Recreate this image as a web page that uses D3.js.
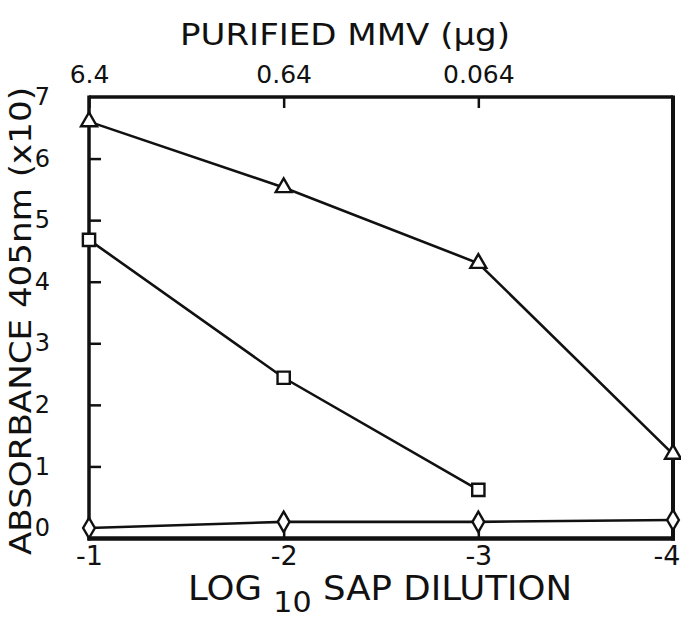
<!DOCTYPE html>
<html>
<head>
<meta charset="utf-8">
<script src="https://cdn.jsdelivr.net/npm/d3@7"></script>
<style>
  html, body { margin: 0; padding: 0; background: #fff; }
  svg { display: block; }
  text { font-family: "DejaVu Sans", "Liberation Sans", sans-serif; fill: #111; }
</style>
</head>
<body>
<svg id="chart" width="681" height="621"></svg>
<script>
// ---- data ----
const dilutions = [-1, -2, -3, -4];
const dilutionLabels = ["-1", "-2", "-3", "-4"];
const mmvTicks = [-1, -2, -3];
const mmvLabels = ["6.4", "0.64", "0.064"];
const yTicks = [0, 1, 2, 3, 4, 5, 6, 7];
const triangleValues = [6.6, 5.53, 4.3, 1.2];
const squareValues = [4.68, 2.44, 0.62];
const diamondValues = [0.0, 0.1, 0.1, 0.13];

const svg = d3.select("#chart");
const x = d3.scaleLinear().domain([-1, -4]).range([89, 673]);
const y = d3.scaleLinear().domain([0, 7]).range([528, 97]);
const yBottom = -0.17;

const ink = "#111";

// y axis (left frame)
const yAxis = d3.axisLeft(y).tickValues(yTicks).tickSizeInner(-12).tickSizeOuter(0).tickPadding(40)
  .tickFormat(d => String(d));
const gy = svg.append("g").attr("transform", `translate(${x(-1)},0)`).call(yAxis);
gy.select(".domain").remove();
gy.selectAll(".tick line").attr("stroke", ink).attr("stroke-width", 2.5)
  .filter(d => d === 0 || d === 7).remove();
gy.selectAll(".tick text").attr("font-size", 24).attr("text-anchor", "end").attr("x", -39).attr("fill", ink);

// top axis
const topAxis = d3.axisTop(x).tickValues(mmvTicks).tickSizeInner(-11).tickSizeOuter(0).tickPadding(14)
  .tickFormat((d, i) => mmvLabels[i]);
const gt = svg.append("g").attr("transform", `translate(0,${y(7)})`).call(topAxis);
gt.select(".domain").remove();
gt.selectAll(".tick line").attr("stroke", ink).attr("stroke-width", 2.5);
gt.selectAll(".tick text").attr("font-size", 25).attr("fill", ink);

// bottom axis
const botAxis = d3.axisBottom(x).tickValues(dilutions).tickSizeInner(-17).tickSizeOuter(0).tickPadding(7)
  .tickFormat((d, i) => dilutionLabels[i]);
const gb = svg.append("g").attr("transform", `translate(0,${y(yBottom)})`).call(botAxis);
gb.select(".domain").remove();
gb.selectAll(".tick line").attr("stroke", ink).attr("stroke-width", 2.5)
  .filter(d => d === -1 || d === -4).remove();
gb.selectAll(".tick text").attr("font-size", 27).attr("fill", ink)
  .filter(d => d === -4).attr("text-anchor", "end").attr("x", 7);

// frame
const fx0 = x(-1), fx1 = x(-4), fy0 = y(7), fy1 = y(yBottom);
svg.append("line").attr("x1", fx0).attr("x2", fx1).attr("y1", fy0).attr("y2", fy0).attr("stroke", ink).attr("stroke-width", 3.5);
svg.append("line").attr("x1", fx0).attr("x2", fx0).attr("y1", fy0 - 1.5).attr("y2", fy1 + 2).attr("stroke", ink).attr("stroke-width", 3.5);
svg.append("line").attr("x1", fx1).attr("x2", fx1).attr("y1", fy0 - 1.5).attr("y2", fy1 + 2).attr("stroke", ink).attr("stroke-width", 4);
svg.append("line").attr("x1", fx0 - 1.5).attr("x2", fx1 + 2).attr("y1", fy1).attr("y2", fy1).attr("stroke", ink).attr("stroke-width", 4.5);

// series lines
const line = d3.line().x((d, i) => x(dilutions[i])).y(d => y(d));
[triangleValues, squareValues, diamondValues].forEach(vals => {
  svg.append("path").datum(vals).attr("d", line).attr("fill", "none")
    .attr("stroke", ink).attr("stroke-width", 2.6);
});

// markers
function addMarkers(vals, symType, size) {
  svg.append("g").selectAll("path").data(vals).join("path")
    .attr("transform", (d, i) => `translate(${x(dilutions[i])},${y(d)})`)
    .attr("d", d3.symbol().type(symType).size(size))
    .attr("fill", "#fff").attr("stroke", ink).attr("stroke-width", 2.4);
}
addMarkers(triangleValues, d3.symbolTriangle, 110);
addMarkers(squareValues, d3.symbolSquare, 150);
addMarkers(diamondValues, d3.symbolDiamond, 120);

// titles
svg.append("text").attr("x", 345).attr("y", 45).attr("text-anchor", "middle")
  .attr("font-size", 31).attr("textLength", 330).attr("lengthAdjust", "spacingAndGlyphs")
  .text("PURIFIED MMV (μg)");

const xt = svg.append("text").attr("x", 188).attr("y", 600).attr("font-size", 33)
  .attr("textLength", 384).attr("lengthAdjust", "spacingAndGlyphs");
xt.append("tspan").text("LOG ");
xt.append("tspan").attr("font-size", 28).attr("dy", 12).text("10");
xt.append("tspan").attr("dy", -12).text(" SAP DILUTION");

svg.append("text").attr("transform", "translate(31,321) rotate(-90)").attr("text-anchor", "middle")
  .attr("font-size", 31).attr("textLength", 468).attr("lengthAdjust", "spacingAndGlyphs")
  .text("ABSORBANCE 405nm (x10)");
</script>
</body>
</html>
